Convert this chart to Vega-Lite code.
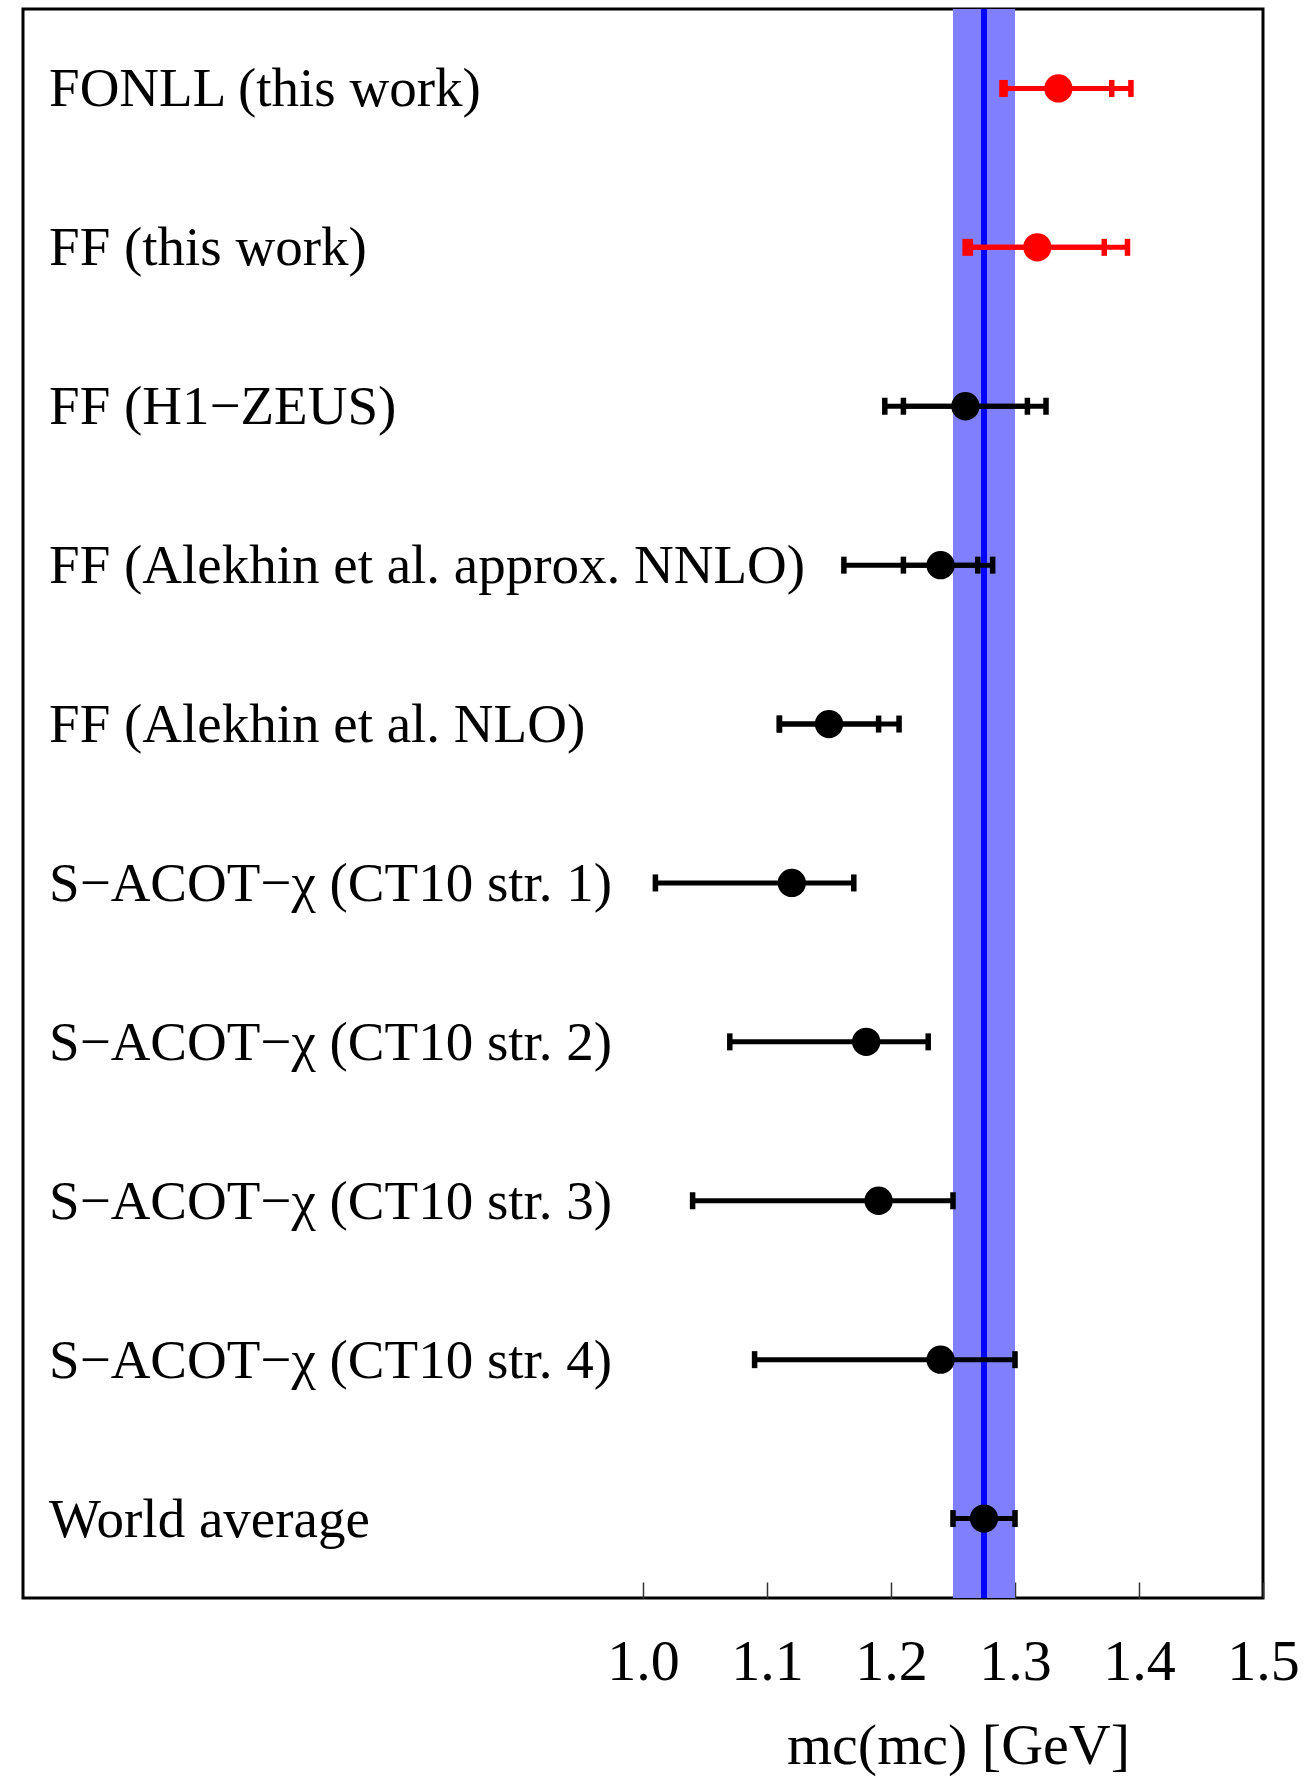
{
  "$schema": "https://vega.github.io/schema/vega-lite/v6.json",
  "width": 1240,
  "height": 1589,
  "autosize": {"type": "none"},
  "padding": {"left": 23, "top": 9, "right": 42, "bottom": 186},
  "background": "white",
  "config": {
    "view": {"stroke": "black", "strokeWidth": 3},
    "font": "Liberation Serif"
  },
  "data": {
    "values": [
      {"label": "FONLL (this work)", "val": 1.335, "lo1": 1.292, "hi1": 1.378, "lo2": 1.2895, "hi2": 1.3935, "grp": "this"},
      {"label": "FF (this work)", "val": 1.318, "lo1": 1.264, "hi1": 1.372, "lo2": 1.2598, "hi2": 1.3907, "grp": "this"},
      {"label": "FF (H1\u2212ZEUS)", "val": 1.26, "lo1": 1.21, "hi1": 1.31, "lo2": 1.195, "hi2": 1.325, "grp": "other"},
      {"label": "FF (Alekhin et al. approx. NNLO)", "val": 1.24, "lo1": 1.21, "hi1": 1.27, "lo2": 1.162, "hi2": 1.282, "grp": "other"},
      {"label": "FF (Alekhin et al. NLO)", "val": 1.15, "lo1": 1.11, "hi1": 1.19, "lo2": 1.11, "hi2": 1.2065, "grp": "other"},
      {"label": "S\u2212ACOT\u2212\u03c7 (CT10 str. 1)", "val": 1.12, "lo1": 1.01, "hi1": 1.17, "lo2": null, "hi2": null, "grp": "other"},
      {"label": "S\u2212ACOT\u2212\u03c7 (CT10 str. 2)", "val": 1.18, "lo1": 1.07, "hi1": 1.23, "lo2": null, "hi2": null, "grp": "other"},
      {"label": "S\u2212ACOT\u2212\u03c7 (CT10 str. 3)", "val": 1.19, "lo1": 1.04, "hi1": 1.25, "lo2": null, "hi2": null, "grp": "other"},
      {"label": "S\u2212ACOT\u2212\u03c7 (CT10 str. 4)", "val": 1.24, "lo1": 1.09, "hi1": 1.30, "lo2": null, "hi2": null, "grp": "other"},
      {"label": "World average", "val": 1.275, "lo1": 1.25, "hi1": 1.30, "lo2": null, "hi2": null, "grp": "other"}
    ]
  },
  "encoding": {
    "y": {
      "field": "label",
      "type": "nominal",
      "sort": null,
      "scale": {"type": "point", "padding": 0.5},
      "axis": null
    }
  },
  "layer": [
    {
      "transform": [{"filter": "datum.label === 'World average'"}],
      "mark": {"type": "rect", "color": "#8080FF", "opacity": 1},
      "encoding": {
        "y": null,
        "x": {
          "field": "lo1",
          "type": "quantitative",
          "scale": {"domain": [0.5, 1.5], "nice": false, "zero": false},
          "axis": {
            "values": [1.0, 1.1, 1.2, 1.3, 1.4, 1.5],
            "format": ".1f",
            "domain": false,
            "grid": false,
            "tickSize": -16,
            "tickWidth": 1.5,
            "tickColor": "#333333",
            "labelFont": "Liberation Serif",
            "labelFontSize": 58,
            "labelColor": "black",
            "labelPadding": 51,
            "labelFlush": false,
            "title": "mc(mc) [GeV]",
            "titleFont": "Liberation Serif",
            "titleFontSize": 58,
            "titleFontWeight": "normal",
            "titleColor": "black",
            "titlePadding": 26,
            "titleX": 935
          }
        },
        "x2": {"field": "hi1"}
      }
    },
    {
      "transform": [{"filter": "datum.label === 'World average'"}],
      "mark": {"type": "rule", "color": "#0000FF", "strokeWidth": 6, "opacity": 1},
      "encoding": {
        "y": null,
        "x": {"field": "val", "type": "quantitative"}
      }
    },
    {
      "mark": {"type": "rule", "strokeWidth": 5, "opacity": 1},
      "encoding": {
        "x": {"field": "lo2", "type": "quantitative"},
        "x2": {"field": "hi2"},
        "color": {"field": "grp", "type": "nominal", "scale": {"domain": ["this", "other"], "range": ["#FF0000", "#000000"]}, "legend": null}
      }
    },
    {
      "mark": {"type": "rule", "strokeWidth": 5, "opacity": 1},
      "encoding": {
        "x": {"field": "lo1", "type": "quantitative"},
        "x2": {"field": "hi1"},
        "color": {"field": "grp", "type": "nominal", "legend": null}
      }
    },
    {
      "mark": {"type": "tick", "orient": "vertical", "size": 17, "thickness": 5.5, "opacity": 1},
      "encoding": {
        "x": {"field": "lo1", "type": "quantitative"},
        "color": {"field": "grp", "type": "nominal", "legend": null}
      }
    },
    {
      "mark": {"type": "tick", "orient": "vertical", "size": 17, "thickness": 5.5, "opacity": 1},
      "encoding": {
        "x": {"field": "hi1", "type": "quantitative"},
        "color": {"field": "grp", "type": "nominal", "legend": null}
      }
    },
    {
      "mark": {"type": "tick", "orient": "vertical", "size": 17, "thickness": 5.5, "opacity": 1},
      "encoding": {
        "x": {"field": "lo2", "type": "quantitative"},
        "color": {"field": "grp", "type": "nominal", "legend": null}
      }
    },
    {
      "mark": {"type": "tick", "orient": "vertical", "size": 17, "thickness": 5.5, "opacity": 1},
      "encoding": {
        "x": {"field": "hi2", "type": "quantitative"},
        "color": {"field": "grp", "type": "nominal", "legend": null}
      }
    },
    {
      "mark": {"type": "point", "shape": "circle", "filled": true, "size": 800, "opacity": 1},
      "encoding": {
        "x": {"field": "val", "type": "quantitative"},
        "color": {"field": "grp", "type": "nominal", "legend": null}
      }
    },
    {
      "mark": {"type": "text", "align": "left", "baseline": "alphabetic", "dy": 18, "fontSize": 55, "font": "Liberation Serif", "color": "black"},
      "encoding": {
        "x": {"datum": 0.521},
        "text": {"field": "label"}
      }
    }
  ]
}
